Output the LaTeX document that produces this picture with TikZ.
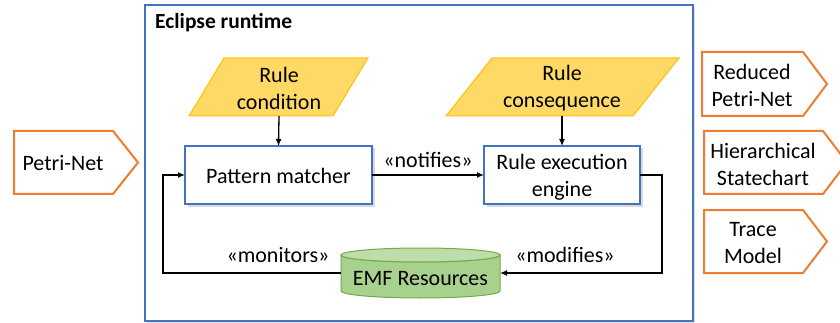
\documentclass[tikz,border=0pt]{standalone}
\usepackage{fontspec}
\setmainfont{Carlito}
\usetikzlibrary{arrows.meta,calc}
\definecolor{bblue}{HTML}{4472C4}
\definecolor{oor}{HTML}{ED7D31}
\definecolor{yfill}{HTML}{FFD966}
\definecolor{ydraw}{HTML}{FFC000}
\definecolor{gfill}{HTML}{A9D18E}
\definecolor{gdraw}{HTML}{70AD47}
\tikzset{
  txt/.style={font=\fontsize{22}{27}\selectfont, align=center, inner sep=0pt},
  procbox/.style={draw=bblue, line width=1.2pt, fill=white},
  shadowbox/.style={fill=black!15},
  outbox/.style={draw=oor, line width=2pt, fill=white},
  databox/.style={draw=ydraw, line width=1pt, fill=yfill},
  conn/.style={line width=1.3pt, -{Latex[length=7pt,width=6pt]}},
}
\begin{document}
\begin{tikzpicture}[x=1pt,y=-1pt]
\useasboundingbox (0,0) rectangle (840,323);
% outer frame
\fill[black!12] (147,7) rectangle (695,323);
\draw[bblue, line width=1.2pt, fill=white] (145,5) rectangle (693,321);
\node[txt, font=\fontsize{21.5}{26}\selectfont\bfseries, anchor=west] (title) at (155,23) {Eclipse runtime};
% parallelograms
\draw[databox] (224,58) -- (368,58) -- (333,116) -- (189,116) -- cycle;
\node[txt] (rc) at (279,88) {Rule\\condition};
\coordinate (rcb) at (279,116);
\draw[databox] (492,58) -- (679,58) -- (633,116) -- (446,116) -- cycle;
\node[txt] (rq) at (562,88) {Rule\\consequence};
\coordinate (rqb) at (562,116);
% process boxes
\fill[shadowbox] (187.5,148.5) rectangle (374.5,206.5);
\draw[procbox] (185,146) rectangle (372,204);
\node[txt] (pm) at (278.5,176) {Pattern matcher};
\coordinate (pmT) at (278.5,146);
\coordinate (pmL) at (185,175);
\coordinate (pmR) at (372,175);
\fill[shadowbox] (486.5,148.5) rectangle (642.5,206.5);
\draw[procbox] (484,146) rectangle (640,204);
\node[txt] (re) at (562,177) {Rule execution\\engine};
\coordinate (reT) at (562,146);
\coordinate (reL) at (484,175);
\coordinate (reR) at (640,175);
% cylinder
\draw[draw=gdraw, line width=1pt, fill=gfill] (341,255) -- (341,291) arc[start angle=180, end angle=0, x radius=79.5, y radius=7] -- (500,255) arc[start angle=0, end angle=180, x radius=79.5, y radius=7] -- cycle;
\draw[draw=gdraw, line width=1pt, fill=gfill!75] (420.5,255) ellipse [x radius=79.5, y radius=7];
\node[txt] (emf) at (420.5,279) {EMF Resources};
\coordinate (emfL) at (341,273);
\coordinate (emfR) at (500,273);
% connectors
\draw[conn] (rcb) -- (pmT);
\draw[conn] (rqb) -- (reT);
\draw[conn] (pmR) -- node[txt, pos=0.5, yshift=15pt] (nt) {«notifies»} (reL);
\draw[conn] (reR) -- (662,175) -- (662,273) -- (emfR);
\node[txt] (md) at (565,255) {«modifies»};
\draw[conn] (emfL) -- (163,273) -- (163,175) -- (pmL);
\node[txt] (mo) at (278,255) {«monitors»};
% output / input pentagons
\draw[outbox] (14,131) -- (113,131) -- (138,162.5) -- (113,194) -- (14,194) -- cycle;
\node[txt] (pn) at (63,163) {Petri-Net};
\draw[outbox] (702,52) -- (803,52) -- (827,84) -- (803,116) -- (702,116) -- cycle;
\node[txt] (rpn) at (752,85) {Reduced\\Petri-Net};
\draw[outbox] (704,131) -- (823,131) -- (847,162.5) -- (823,194) -- (704,194) -- cycle;
\node[txt] (hs) at (763,164) {Hierarchical\\Statechart};
\draw[outbox] (704,210) -- (803,210) -- (827,241.5) -- (803,273) -- (704,273) -- cycle;
\node[txt] (tm) at (753,243) {Trace\\Model};
\end{tikzpicture}
\end{document}
